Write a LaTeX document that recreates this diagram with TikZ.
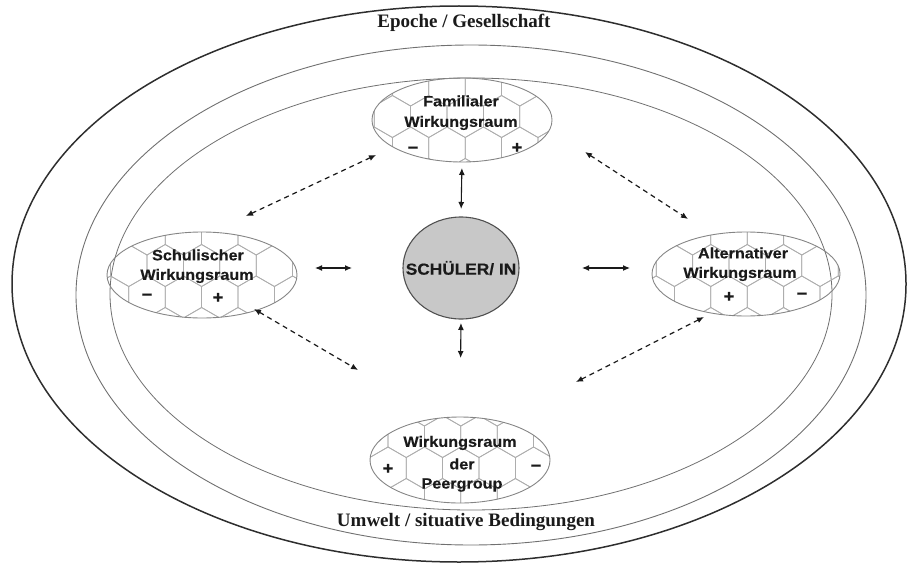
\documentclass[tikz,border=0pt]{standalone}
\usepackage{fontspec}
\setmainfont{Liberation Serif}
\newfontfamily\zonefont[FakeStretch=1.08,FakeBold=0.3]{Liberation Sans Bold}
\usetikzlibrary{arrows.meta,shapes.geometric}

\definecolor{inkdark}{HTML}{1A1A1A}
\definecolor{ringdark}{HTML}{2E2E2E}
\definecolor{ringgrey}{HTML}{707070}
\definecolor{hexgrey}{HTML}{ADADAD}
\definecolor{zoneedge}{HTML}{858585}
\definecolor{corefill}{HTML}{C8C8C8}
\definecolor{coreedge}{HTML}{505050}

% honeycomb of pointy-top hexagons, anchored at one hexagon centre
\newcommand\honeycomb[2]{%
  \foreach \r in {-3,...,3}{%
    \foreach \c in {-4,...,4}{%
      \pgfmathsetmacro\hx{#1+\c*36.4+mod(abs(\r),2)*18.2}%
      \pgfmathsetmacro\hy{#2+\r*31.5}%
      \draw[hexline,shift={(\hx,\hy)}] (30:21)--(90:21)--(150:21)--(210:21)--(270:21)--(330:21)--cycle;
    }}}

\tikzset{
  outerring/.style={draw=ringdark,line width=1.5pt},
  midring/.style={draw=ringgrey,line width=0.9pt},
  innerring/.style={draw=ringgrey,line width=0.8pt},
  hexline/.style={draw=hexgrey,line width=0.75pt},
  hexzone/.style={ellipse,draw=zoneedge,line width=0.9pt,outer sep=0pt,inner sep=0pt},
  zonelabel/.style={font=\zonefont\fontsize{15}{17}\selectfont,text=inkdark,inner sep=0pt},
  sign/.style={font=\zonefont\fontsize{17}{17}\selectfont,text=inkdark,inner sep=0pt},
  framelabel/.style={font=\bfseries\fontsize{19}{21}\selectfont,text=inkdark,inner sep=0pt},
  core/.style={ellipse,draw=coreedge,fill=corefill,line width=1.1pt,outer sep=0pt,inner sep=0pt},
  corelabel/.style={font=\zonefont\fontsize{16}{18}\selectfont,text=inkdark,inner sep=0pt},
  solidarrow/.style={draw=inkdark,line width=1.1pt,{Latex[length=7pt,width=6pt]}-{Latex[length=7pt,width=6pt]}},
  dasharrow/.style={draw=inkdark,line width=1.2pt,dash pattern=on 5pt off 4pt,
    {Latex[length=7pt,width=6pt]}-{Latex[length=7pt,width=6pt]}},
}

\begin{document}
\begin{tikzpicture}[x=1pt,y=-1pt]
\useasboundingbox (0,0) rectangle (909,567);

% surrounding frames
\draw[outerring] (459,284) ellipse [x radius=447, y radius=278];
\draw[midring] (471,295) ellipse [x radius=395, y radius=250];
\draw[innerring] (471,294) ellipse [x radius=361, y radius=216];

\node[framelabel] (epoche) at (464,23) {Epoche / Gesellschaft};
\node[framelabel] (umwelt) at (466,522) {Umwelt / situative Bedingungen};

% honeycomb fillings of the four spheres
\begin{scope}
  \clip (462,120) ellipse [x radius=90, y radius=42];
  \honeycomb{447}{148}
\end{scope}
\begin{scope}
  \clip (202,275) ellipse [x radius=95, y radius=43];
  \honeycomb{147}{297}
\end{scope}
\begin{scope}
  \clip (746,274) ellipse [x radius=94, y radius=42];
  \honeycomb{729}{297}
\end{scope}
\begin{scope}
  \clip (460,460) ellipse [x radius=90, y radius=43];
  \honeycomb{388}{468}
\end{scope}

% sphere outlines
\node[hexzone,minimum width=180,minimum height=84] (fam) at (462,120) {};
\node[hexzone,minimum width=190,minimum height=86] (schul) at (202,275) {};
\node[hexzone,minimum width=188,minimum height=84] (alt) at (746,274) {};
\node[hexzone,minimum width=180,minimum height=86] (peer) at (460,460) {};

% sphere labels
\node[zonelabel] (famA) at (461,101) {Familialer};
\node[zonelabel] (famB) at (461,123) {Wirkungsraum};
\node[sign] (famM) at (413,150) {\symbol{"2212}};
\node[sign] (famP) at (517,148) {+};

\node[zonelabel] (schulA) at (198,255) {Schulischer};
\node[zonelabel] (schulB) at (197,276) {Wirkungsraum};
\node[sign] (schulM) at (147,297) {\symbol{"2212}};
\node[sign] (schulP) at (218,298) {+};

\node[zonelabel] (altA) at (743,253) {Alternativer};
\node[zonelabel] (altB) at (740,274) {Wirkungsraum};
\node[sign] (altP) at (729,297) {+};
\node[sign] (altM) at (802,296) {\symbol{"2212}};

\node[zonelabel] (peerA) at (460,443) {Wirkungsraum};
\node[zonelabel] (peerB) at (462,464) {der};
\node[zonelabel] (peerC) at (462,485) {Peergroup};
\node[sign] (peerP) at (388,469) {+};
\node[sign] (peerM) at (536,468) {\symbol{"2212}};

% the pupil in the centre
\node[core,minimum width=116,minimum height=102] (schueler) at (461,268) {};
\node[corelabel] (schuelerT) at (schueler.center) {SCHÜLER/ IN};

% direct influences
\draw[solidarrow,shorten <=6pt,shorten >=8pt] (fam.south) -- (schueler.north);
\draw[solidarrow,shorten <=4pt,shorten >=59pt] (schueler.south) -- (peer.north);
\draw[solidarrow,shorten <=18pt,shorten >=51pt] (schul.east |- schueler.west) -- (schueler.west);
\draw[solidarrow,shorten <=63pt,shorten >=22pt] (schueler.east) -- (alt.west |- schueler.east);

% mutual influences between the spheres
\draw[dasharrow] ([shift={(-86,35)}]fam.center) -- ([shift={(44,-59)}]schul.center);
\draw[dasharrow] ([shift={(123,32)}]fam.center) -- ([shift={(-58,-55)}]alt.center);
\draw[dasharrow] ([shift={(52,34)}]schul.center) -- ([shift={(-102,-90)}]peer.center);
\draw[dasharrow] ([shift={(-42,43)}]alt.center) -- ([shift={(116,-78)}]peer.center);
\end{tikzpicture}
\end{document}
